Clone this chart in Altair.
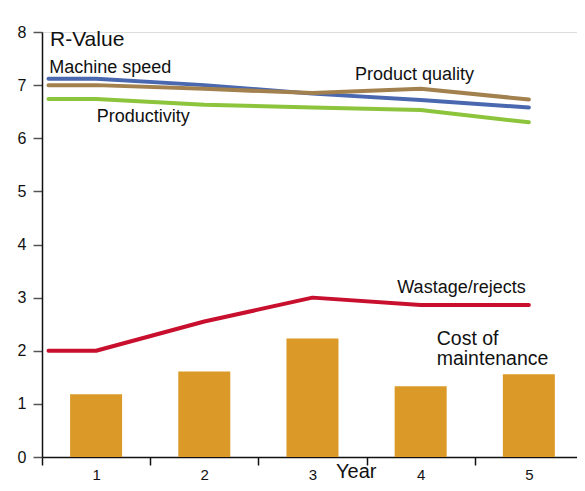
import altair as alt
import pandas as pd

FONT = "Liberation Sans, Arial, Helvetica, sans-serif"

# ---- data ----
years = [1, 2, 3, 4, 5]
maintenance_cost = [1.18, 1.61, 2.23, 1.33, 1.56]

line_x = [0.56, 1, 2, 3, 4, 5]
machine_speed = [7.12, 7.12, 7.00, 6.84, 6.72, 6.58]
product_quality = [7.00, 7.00, 6.93, 6.85, 6.93, 6.73]
productivity = [6.74, 6.74, 6.63, 6.58, 6.53, 6.30]
wastage = [2.00, 2.00, 2.55, 3.00, 2.86, 2.86]

series_names = ["Machine speed", "Product quality", "Productivity", "Wastage/rejects"]
series_colors = ["#4a68b0", "#a3814f", "#8cc43c", "#c8102e"]
bar_color = "#db9a27"

y_ticks = [0, 1, 2, 3, 4, 5, 6, 7, 8]
x_axis_values = [0.5, 1, 1.5, 2, 2.5, 3, 3.5, 4, 4.5, 5]
x_domain = [0.5, 5.445]  # the axis is cut by the page edge just before 5.5

# ---- tables ----
bars_df = pd.DataFrame({"year": years, "value": maintenance_cost})
rows = []
for name, vals in zip(series_names, [machine_speed, product_quality, productivity, wastage]):
    for i, (xv, yv) in enumerate(zip(line_x, vals)):
        rows.append({"series": name, "year": xv, "value": yv, "order": i})
lines_df = pd.DataFrame(rows)

x_scale = alt.Scale(domain=x_domain, nice=False, zero=False, padding=0)
y_scale = alt.Scale(domain=[0, 8], nice=False)

x_axis = alt.Axis(
    values=x_axis_values,
    labelExpr="datum.value % 1 === 0 ? format(datum.value, 'd') : ''",
    tickOpacity={"condition": {"test": "datum.value % 1 === 0", "value": 0}, "value": 1},
    labelOverlap=False,
    labelFlush=False,
    grid=False,
    title=None,
    tickSize=8,
    labelPadding=2,
    labelFontSize=15,
    labelFont=FONT,
    labelColor="#111",
    domainColor="#111",
    tickColor="#111",
    domainWidth=1.5,
    tickWidth=1.5,
)
y_axis = alt.Axis(
    values=y_ticks,
    grid=False,
    title=None,
    tickSize=9,
    labelPadding=7,
    labelFontSize=16,
    labelFont=FONT,
    labelColor="#111",
    domainColor="#111",
    tickColor="#555",
    domainWidth=1.5,
    tickWidth=1.5,
)

bars = alt.Chart(bars_df).mark_bar(color=bar_color, size=52).encode(
    x=alt.X("year:Q", scale=x_scale, axis=x_axis),
    y=alt.Y("value:Q", scale=y_scale, axis=y_axis),
)

lines = alt.Chart(lines_df).mark_line(strokeWidth=4, strokeCap="round", strokeJoin="round").encode(
    x=alt.X("year:Q", scale=x_scale, axis=x_axis),
    y=alt.Y("value:Q", scale=y_scale, axis=y_axis),
    color=alt.Color("series:N", scale=alt.Scale(domain=series_names, range=series_colors), legend=None),
    order="order:Q",
)


def label(text, px, py, size=18):
    return alt.Chart(pd.DataFrame({"t": [text]})).mark_text(
        align="left", baseline="alphabetic", font=FONT, fontSize=size, color="#111"
    ).encode(text="t:N", x=alt.value(px), y=alt.value(py))


annotations = [
    label("R-Value", 8, 13.7, 21),
    label("Machine speed", 7.3, 40.5),
    label("Productivity", 54.7, 89.7),
    label("Product quality", 313, 48),
    label("Wastage/rejects", 355.3, 260.7),
    label("Cost of", 394.7, 313, 19.5),
    label("maintenance", 394.7, 333, 19.5),
    label("Year", 294, 446, 20),
]

chart = alt.layer(bars, lines, *annotations).properties(
    width=535,
    height=425,
    autosize=alt.AutoSizeParams(type="none"),
    padding={"left": 34, "top": 24, "right": 0, "bottom": 26},
).configure_view(stroke=None).configure(background="white")

chart.save("out.html", embed_options={"renderer": "svg", "actions": False})
